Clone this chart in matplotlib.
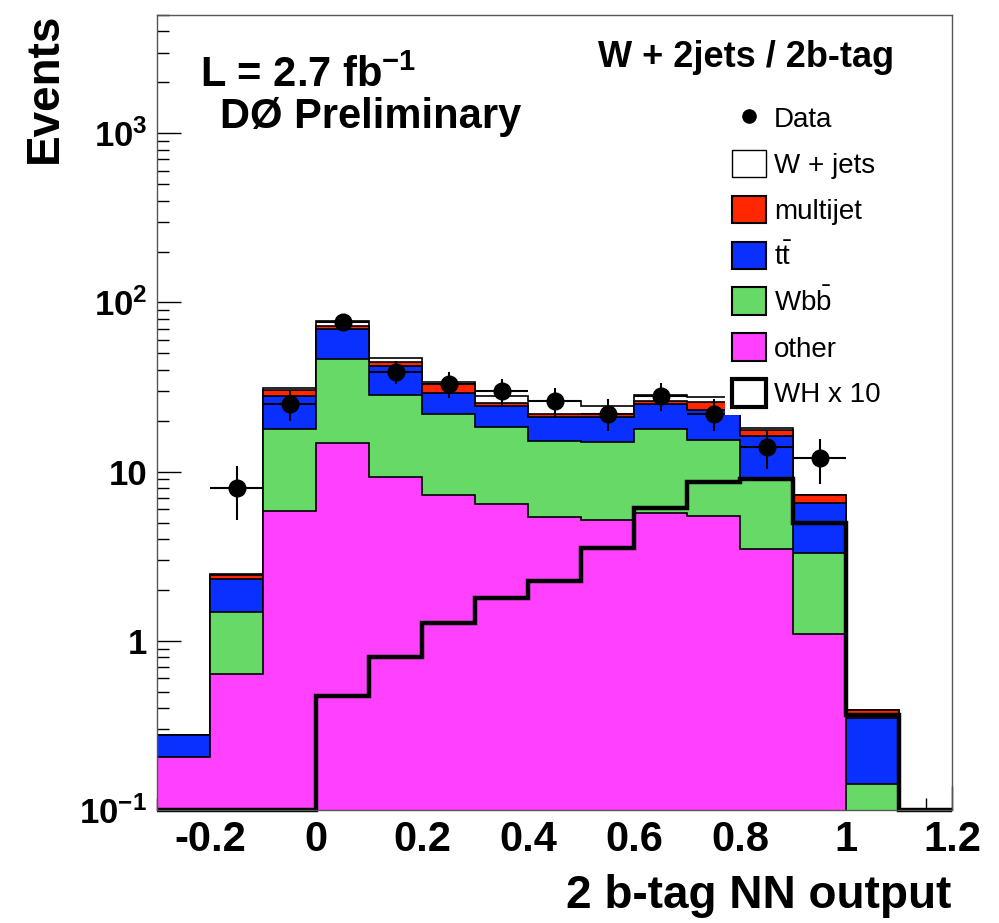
import numpy as np
import matplotlib
matplotlib.use("Agg")
import matplotlib.pyplot as plt
from matplotlib.patches import Patch
from matplotlib.lines import Line2D
from matplotlib.ticker import FuncFormatter, LogLocator, MultipleLocator, NullFormatter

# ---------------- data ----------------
bin_edges = [-0.3, -0.2, -0.1, 0.0, 0.1, 0.2, 0.3, 0.4, 0.5, 0.6, 0.7, 0.8, 0.9, 1.0, 1.1, 1.2]
other    = [0.207, 0.636, 5.82, 14.8, 9.32, 7.27, 6.43, 5.37, 5.17, 5.69, 5.43, 3.47, 1.10, 0.05, 0.0]
wbb      = [0.0, 0.854, 11.98, 31.7, 19.2, 14.7, 11.9, 9.8, 9.7, 12.1, 9.9, 5.44, 2.22, 0.093, 0.0]
ttbar    = [0.069, 0.84, 10.1, 22.8, 13.6, 7.3, 6.1, 5.9, 6.2, 7.2, 7.8, 7.4, 3.17, 0.207, 0.0]
multijet = [0.0, 0.12, 2.4, 2.9, 2.1, 3.8, 1.1, 0.9, 0.9, 1.2, 2.7, 1.3, 0.78, 0.042, 0.0]
wjets    = [0.0, 0.02, 0.9, 5.4, 3.0, 0.8, 2.4, 4.2, 2.3, 2.2, 1.8, 0.5, 0.05, 0.0, 0.0]
wh_x10   = [0.0, 0.0, 0.0, 0.469, 0.797, 1.28, 1.79, 2.27, 3.55, 6.07, 8.71, 9.0, 4.95, 0.366, 0.0]
nan = np.nan
data     = [nan, 8, 25, 77, 39, 33, 30, 26, 22, 28, 22, 14, 12, nan, nan]
data_err = [nan, 2.8, 5.0, 8.8, 6.2, 5.7, 5.5, 5.1, 4.7, 5.3, 4.7, 3.7, 3.5, nan, nan]

labels = ["Data", "W + jets", "multijet", r"t$\mathrm{\bar{t}}$", r"Wb$\mathrm{\bar{b}}$", "other", "WH x 10"]
col_other, col_wbb, col_tt, col_mj, col_wj = "#FF40FF", "#66D966", "#0A30FF", "#FF2600", "#FFFFFF"

# ---------------- style ----------------
plt.rcParams["font.family"] = ["Liberation Sans", "DejaVu Sans"]
plt.rcParams["mathtext.fontset"] = "custom"
plt.rcParams["mathtext.rm"] = "Liberation Sans"
plt.rcParams["mathtext.bf"] = "Liberation Sans:bold"
plt.rcParams["mathtext.it"] = "Liberation Sans:italic"
plt.rcParams["axes.unicode_minus"] = False

W, H = 999, 923
fig = plt.figure(figsize=(W / 100, H / 100), dpi=100)
ax = fig.add_axes([157 / W, 1 - 810 / H, (952 - 157) / W, (810 - 15) / H])
ax.set_yscale("log")

edges = np.array(bin_edges)
floor = 1e-3
comps = np.array([other, wbb, ttbar, multijet, wjets])
cum = np.cumsum(comps, axis=0)
cols = [col_other, col_wbb, col_tt, col_mj, col_wj]
for i in reversed(range(len(cols))):
    ax.stairs(np.maximum(cum[i], floor), edges, baseline=floor, fill=True,
              facecolor=cols[i], edgecolor="black", linewidth=1.2, zorder=2 + (5 - i) * 0.01)

ax.stairs(np.maximum(np.array(wh_x10), 0.1), edges, baseline=None, color="black",
          linewidth=3.2, zorder=3, clip_on=False)

centers = 0.5 * (edges[:-1] + edges[1:])
halfw = 0.5 * np.diff(edges)
ax.errorbar(centers, data, yerr=data_err, xerr=halfw, fmt="o", color="black",
            markersize=12, elinewidth=1.5, capsize=0, zorder=4)

ax.set_xlim(-0.3, 1.2)
ax.set_ylim(0.1, 5000)

ax.xaxis.set_major_locator(MultipleLocator(0.2))
ax.xaxis.set_minor_locator(MultipleLocator(0.05))
ax.xaxis.set_major_formatter(FuncFormatter(lambda v, p: f"{round(v, 2):g}"))
ax.yaxis.set_major_locator(LogLocator(base=10, numticks=10))
ax.yaxis.set_minor_locator(LogLocator(base=10, subs=np.arange(2, 10), numticks=20))
ax.yaxis.set_minor_formatter(NullFormatter())


def yfmt(v, pos):
    e = int(round(np.log10(v)))
    if e == 0:
        return "1"
    if e == 1:
        return "10"
    return r"$\mathbf{10^{%d}}$" % e


ax.yaxis.set_major_formatter(FuncFormatter(yfmt))
ax.tick_params(axis="both", which="major", direction="in", length=17, width=1,
               top=False, right=False, color="black")
ax.tick_params(axis="both", which="minor", direction="in", length=8.5, width=1,
               top=False, right=False)
ax.tick_params(axis="x", which="major", labelsize=30, pad=7)
ax.tick_params(axis="y", which="major", labelsize=25, pad=7)
for lab in ax.get_xticklabels() + ax.get_yticklabels():
    lab.set_fontweight("bold")
for s in ax.spines.values():
    s.set_color("#555555")
    s.set_linewidth(1.0)
    s.set_zorder(5)

# texts
fig.text(67 / W, 1 - 13 / H, "Events", rotation=90, ha="right", va="top",
         fontsize=33, fontweight="bold")
fig.text(951 / W, 1 - 908 / H, "2 b-tag NN output", ha="right", va="baseline",
         fontsize=33, fontweight="bold")
fig.text(200 / W, 1 - 87 / H, r"L = 2.7 fb$^{\mathbf{-1}}$", ha="left", va="baseline",
         fontsize=30, fontweight="bold")
fig.text(220 / W, 1 - 128 / H, "DØ Preliminary", ha="left", va="baseline",
         fontsize=30, fontweight="bold")
fig.text(598 / W, 1 - 67 / H, "W + 2jets / 2b-tag", ha="left", va="baseline",
         fontsize=26, fontweight="bold")

handles = [
    Line2D([], [], marker="o", ls="none", color="black", markersize=9.5),
    Patch(facecolor=col_wj, edgecolor="black", linewidth=1.0),
    Patch(facecolor=col_mj, edgecolor="black", linewidth=1.5),
    Patch(facecolor=col_tt, edgecolor="black", linewidth=1.5),
    Patch(facecolor=col_wbb, edgecolor="black", linewidth=1.5),
    Patch(facecolor=col_other, edgecolor="black", linewidth=1.5),
    Patch(facecolor="white", edgecolor="black", linewidth=3.0),
]
leg = ax.legend(handles, labels, loc="upper left",
                bbox_to_anchor=(725 / W, 1 - 97 / H), bbox_transform=fig.transFigure,
                frameon=True, facecolor="white", edgecolor="none", fancybox=False,
                framealpha=1, borderpad=0.25, borderaxespad=0, handlelength=1.22,
                handleheight=1.15, handletextpad=0.29, labelspacing=0.6,
                prop=dict(family="Liberation Sans", size=20))
leg.set_zorder(6)

fig.savefig("out.png", dpi=100)
